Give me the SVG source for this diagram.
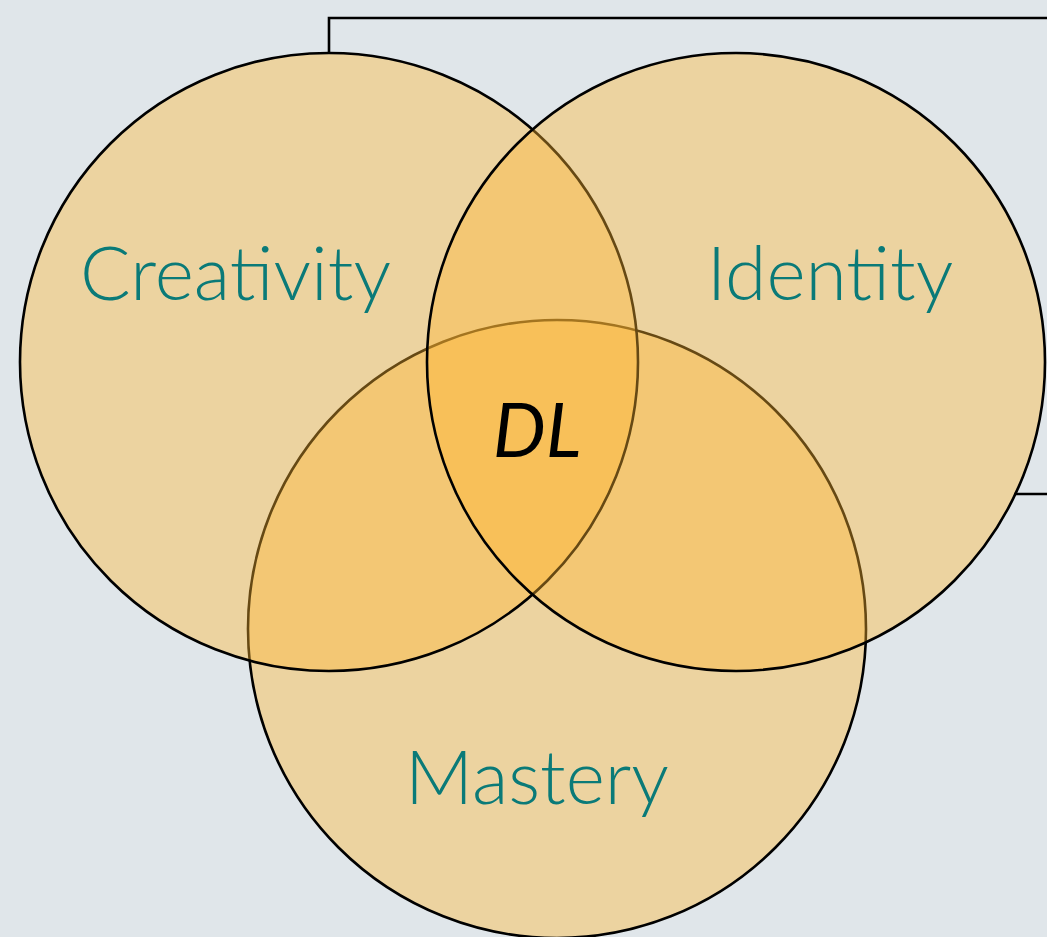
<svg xmlns="http://www.w3.org/2000/svg" width="1047" height="937" viewBox="0 0 1047 937">
<style>
.c{fill:#FFB731;fill-opacity:0.4;stroke:#000;stroke-width:2.6}
.l{font-family:Lato,"Liberation Sans",sans-serif;font-weight:300;font-size:75px;fill:#0A7A78;text-anchor:middle}
.dl{font-family:Lato,"Liberation Sans",sans-serif;font-style:italic;font-weight:400;font-size:75px;fill:#000;text-anchor:middle}
.k{fill:none;stroke:#000;stroke-width:2.6}
</style>
<rect width="1047" height="937" fill="#E0E6EA"/>
<g id="connectors">
<path class="k" d="M329 52V18H1047"/>
<path class="k" d="M1014 494H1047"/>
</g>
<g id="mastery"><circle class="c" cx="557" cy="629" r="309"/></g>
<g id="creativity"><circle class="c" cx="329" cy="362" r="309"/></g>
<g id="identity"><circle class="c" cx="736" cy="362" r="309"/></g>
<g id="labels">
<text class="l" x="235.5" y="300">Creativity</text>
<text class="l" x="830" y="300">Identity</text>
<text class="l" x="537" y="804">Mastery</text>
<text class="dl" x="537" y="457">DL</text>
</g>
</svg>
